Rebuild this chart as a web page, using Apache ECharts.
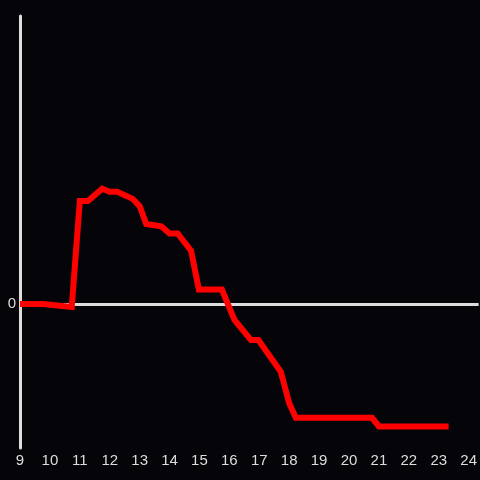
<!DOCTYPE html>
<html>
<head>
<meta charset="utf-8">
<script src="https://cdn.jsdelivr.net/npm/echarts@6/dist/echarts.min.js"></script>
<style>
  html, body { margin: 0; padding: 0; background: #050408; }
  #chart { width: 480px; height: 480px; }
</style>
</head>
<body>
<div id="chart"></div>
<script>
  // hours of day and values
  const hours = [9.0, 9.77, 10.73, 11.0, 11.27, 11.75, 12.0, 12.25, 12.77, 13.0, 13.22, 13.72,
    14.0, 14.27, 14.72, 14.98, 15.75, 16.17, 16.72, 16.97, 17.72, 18.0, 18.22, 20.77, 21.0, 23.33];
  const values = [0, 0, -0.02, 0.715, 0.715, 0.80, 0.78, 0.78, 0.73, 0.68, 0.555, 0.54,
    0.49, 0.49, 0.37, 0.10, 0.10, -0.11, -0.25, -0.25, -0.47, -0.69, -0.79, -0.79, -0.85, -0.85];

  const chart = echarts.init(document.getElementById('chart'));
  const seriesData = hours.map((h, i) => [h, values[i]]);

  const options = {
    backgroundColor: '#050408',
    animation: false,
    grid: {
      left: 20,
      right: 0,
      top: 16,
      bottom: 32
    },
    xAxis: {
      type: 'value',
      min: 9,
      max: 24 + 1 / 3,
      interval: 1,
      position: 'bottom',
      axisLine: { show: false, onZero: false },
      axisTick: { show: false },
      splitLine: { show: false },
      axisLabel: {
        color: '#dddddd',
        fontSize: 15,
        fontFamily: 'Liberation Sans',
        margin: 5
      }
    },
    yAxis: {
      type: 'value',
      min: -1,
      max: 2,
      interval: 1,
      axisLine: { show: true, lineStyle: { color: '#dddddd', width: 3 } },
      axisTick: { show: false },
      splitLine: { show: false },
      axisLabel: {
        color: '#dddddd',
        fontSize: 15,
        fontFamily: 'Liberation Sans',
        margin: 4,
        formatter: function(v) {
          return v === 0 ? '0' : '';
        }
      }
    },
    series: [
      {
        type: 'line',
        data: seriesData,
        showSymbol: false,
        symbol: 'none',
        lineStyle: { color: '#ff0000', width: 6, join: 'miter' },
        z: 3,
        markLine: {
          silent: true,
          symbol: 'none',
          label: { show: false },
          lineStyle: { color: '#dddddd', width: 3, type: 'solid' },
          data: [{ yAxis: 0 }],
          z: 2
        }
      }
    ]
  };
  chart.setOption(options);
</script>
</body>
</html>
